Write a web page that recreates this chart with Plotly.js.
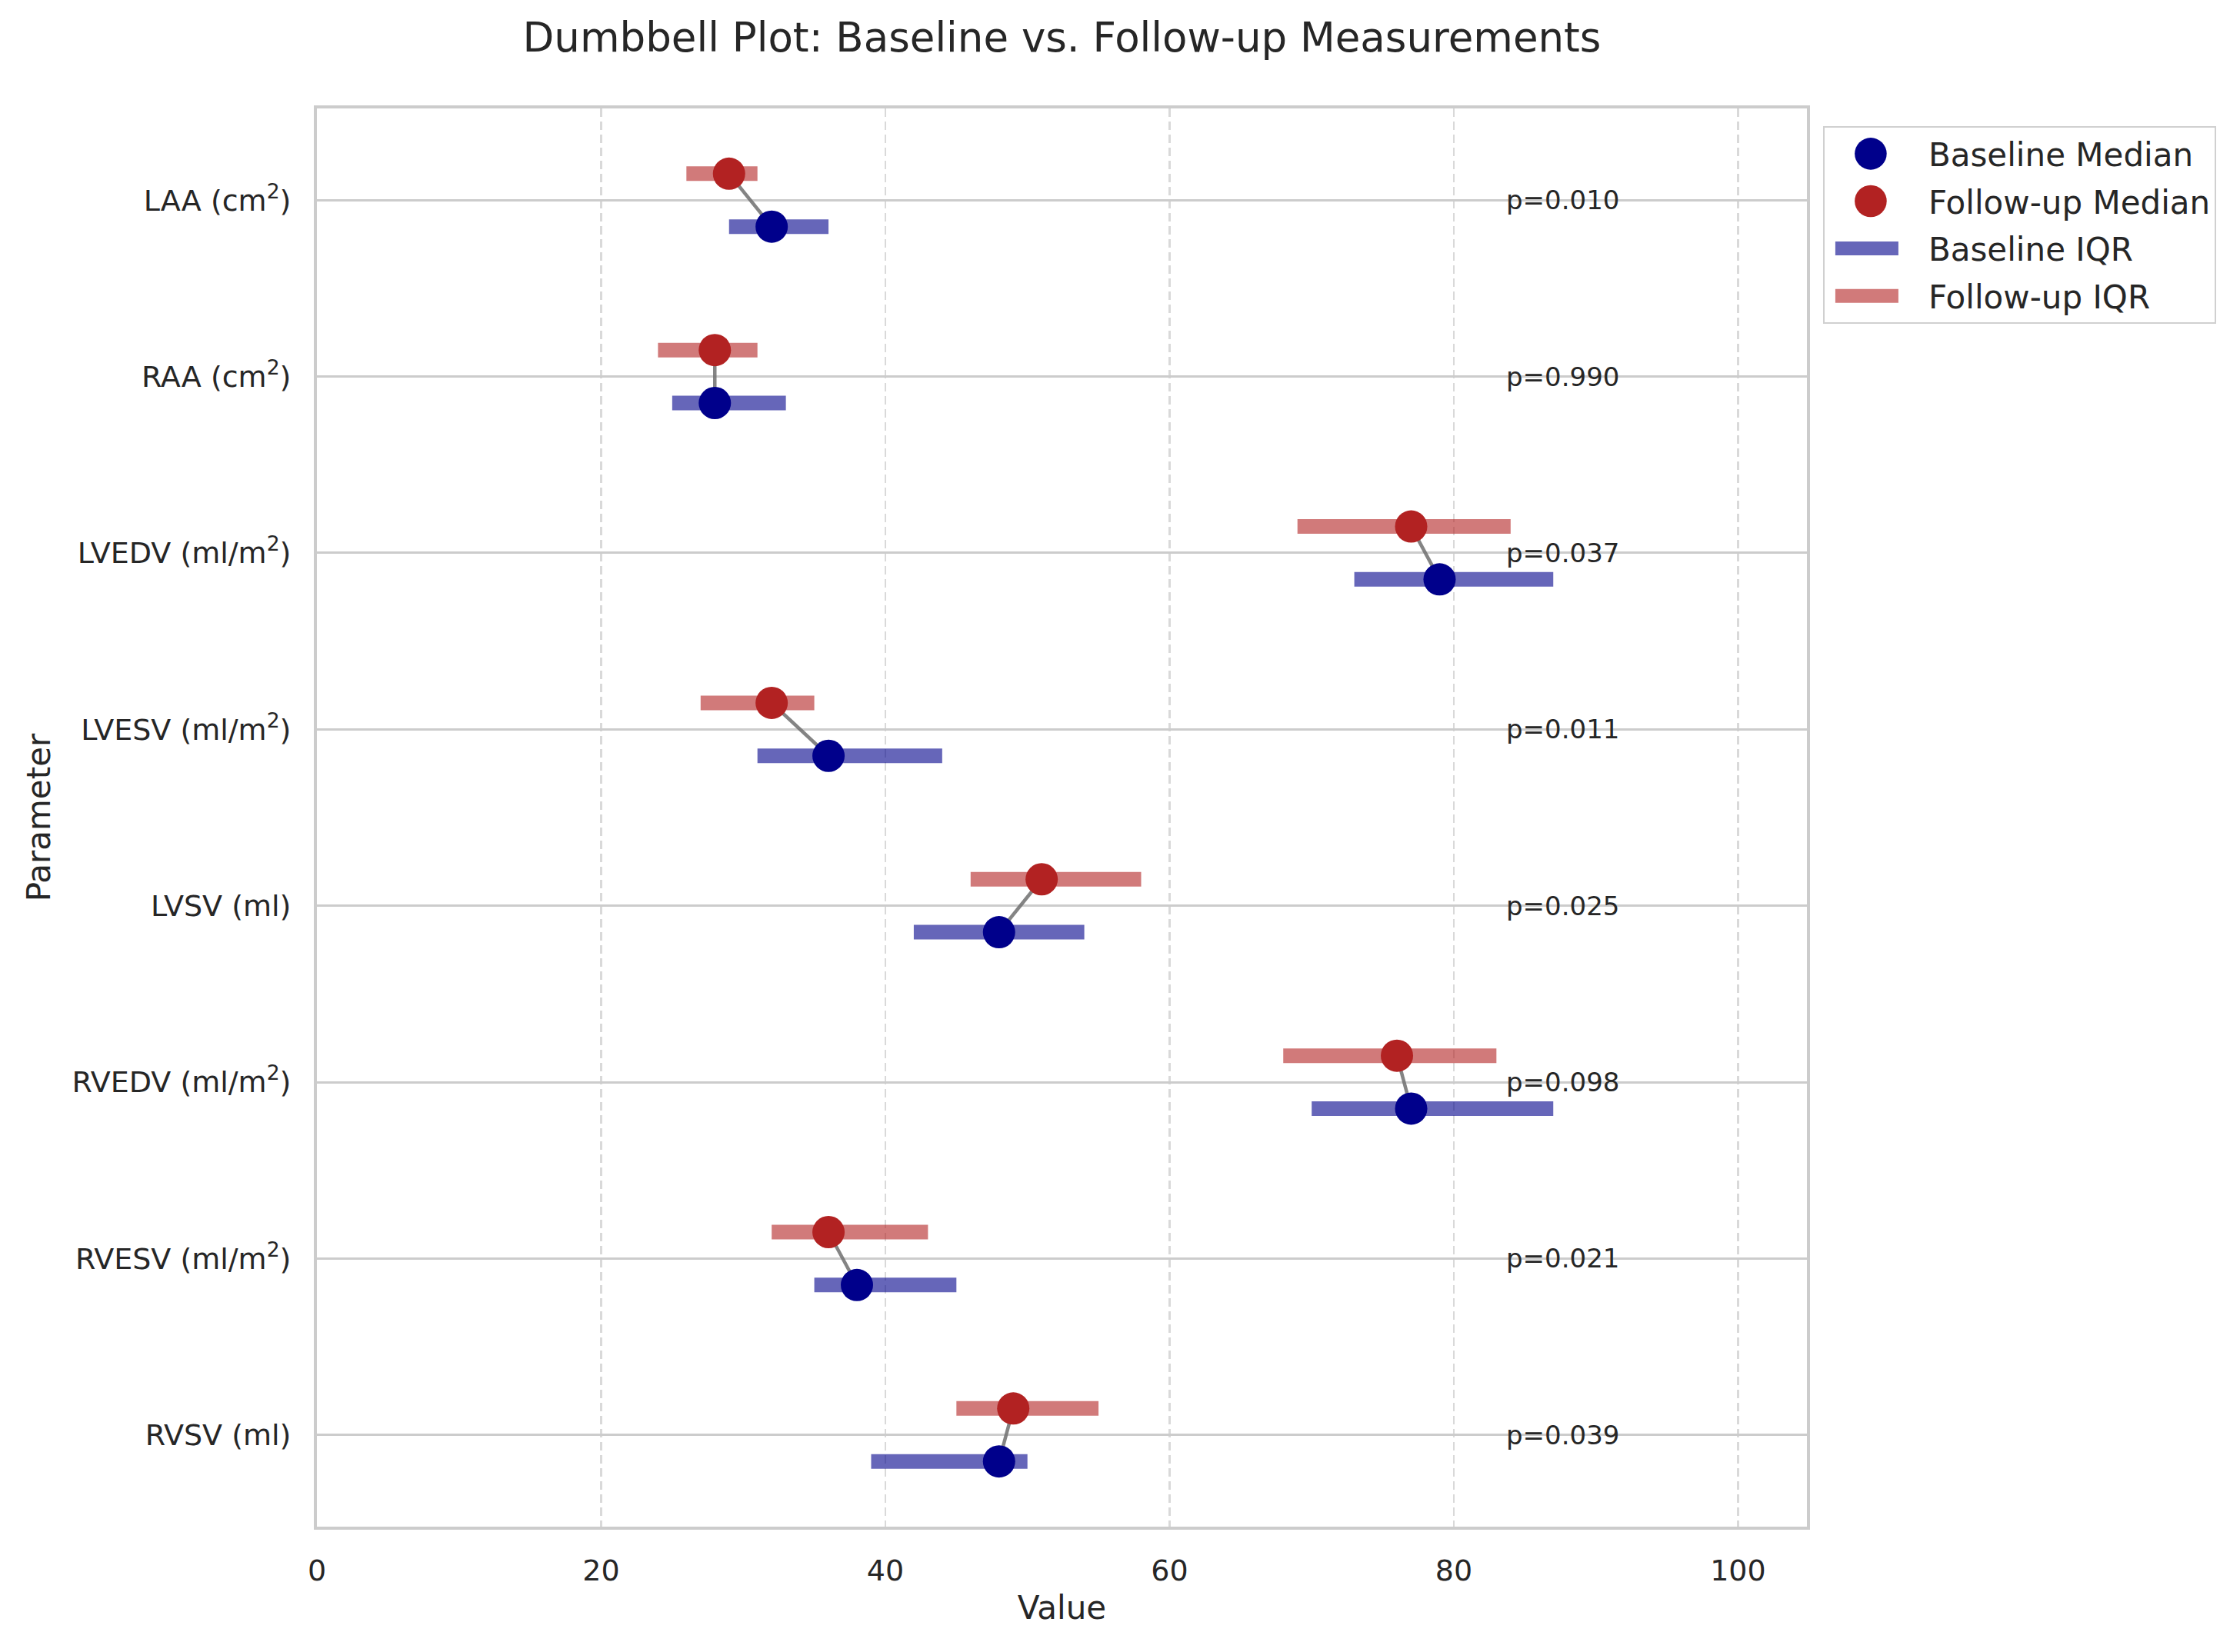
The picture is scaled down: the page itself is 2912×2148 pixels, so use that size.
<!DOCTYPE html>
<html>
<head>
<meta charset="utf-8">
<script src="https://cdn.plot.ly/plotly-3.0.1.min.js"></script>
<style>
  html, body { margin: 0; padding: 0; background: #ffffff; }
  #chart { width: 2912px; height: 2148px; }
</style>
</head>
<body>
<div id="chart"></div>
<script>
// values
const parameters = [
  'LAA (cm<sup>2</sup>)',
  'RAA (cm<sup>2</sup>)',
  'LVEDV (ml/m<sup>2</sup>)',
  'LVESV (ml/m<sup>2</sup>)',
  'LVSV (ml)',
  'RVEDV (ml/m<sup>2</sup>)',
  'RVESV (ml/m<sup>2</sup>)',
  'RVSV (ml)',
];
const baselineMedian = [32, 28, 79, 36, 48, 77, 38, 48];
const baselineQ1 = [29, 25, 73, 31, 42, 70, 35, 39];
const baselineQ3 = [36, 33, 87, 44, 54, 87, 45, 50];
const followupMedian = [29, 28, 77, 32, 51, 76, 36, 49];
const followupQ1 = [26, 24, 69, 27, 46, 68, 32, 45];
const followupQ3 = [31, 31, 84, 35, 58, 83, 43, 55];
const pValues = ['0.010', '0.990', '0.037', '0.011', '0.025', '0.098', '0.021', '0.039'];
const xTicks = [0, 20, 40, 60, 80, 100];

const offset = 0.15;
const pTextX = 83.6;
const font = 'DejaVu Sans, Verdana, sans-serif';
const textColor = '#262626';

const rows = parameters.map((p, i) => i);
const baseY = rows.map(i => i + offset);
const followY = rows.map(i => i - offset);

function segments(starts, ends, ys1, ys2) {
  const xs = [];
  const ys = [];
  starts.forEach((s, i) => {
    xs.push(s, ends[i], null);
    ys.push(ys1[i], ys2[i], null);
  });
  return { xs, ys };
}

const baseIqr = segments(baselineQ1, baselineQ3, baseY, baseY);
const followIqr = segments(followupQ1, followupQ3, followY, followY);
const links = segments(baselineMedian, followupMedian, baseY, followY);

const data = [
  {
    x: baseIqr.xs,
    y: baseIqr.ys,
    name: 'Baseline IQR',
    mode: 'lines',
    type: 'scatter',
    line: { color: 'rgba(0,0,139,0.6)', width: 19 },
    legendrank: 3,
    legendgroup: 'c',
  },
  {
    x: followIqr.xs,
    y: followIqr.ys,
    name: 'Follow-up IQR',
    mode: 'lines',
    type: 'scatter',
    line: { color: 'rgba(178,34,34,0.6)', width: 19 },
    legendrank: 4,
    legendgroup: 'd',
  },
  {
    x: links.xs,
    y: links.ys,
    mode: 'lines',
    type: 'scatter',
    line: { color: 'rgba(110,110,110,0.85)', width: 4.5 },
    showlegend: false,
  },
  {
    x: baselineMedian,
    y: baseY,
    name: 'Baseline Median',
    mode: 'markers',
    type: 'scatter',
    marker: { color: '#00008B', size: 42 },
    legendrank: 1,
    legendgroup: 'a',
  },
  {
    x: followupMedian,
    y: followY,
    name: 'Follow-up Median',
    mode: 'markers',
    type: 'scatter',
    marker: { color: '#B22222', size: 42 },
    legendrank: 2,
    legendgroup: 'b',
  },
];

const annotations = pValues.map((p, i) => ({
  x: pTextX,
  y: i,
  xref: 'x',
  yref: 'y',
  text: 'p=' + p,
  showarrow: false,
  xanchor: 'left',
  yanchor: 'middle',
  font: { family: font, size: 34, color: textColor },
}));

const layout = {
  width: 2912,
  height: 2148,
  paper_bgcolor: '#ffffff',
  plot_bgcolor: '#ffffff',
  margin: { l: 412, r: 563, t: 141, b: 163 },
  font: { family: font, color: textColor },
  hovermode: false,
  title: {
    text: 'Dumbbell Plot: Baseline vs. Follow-up Measurements',
    font: { family: font, size: 53, color: textColor },
    x: 0.5,
    xref: 'paper',
    xanchor: 'center',
    y: 1 - 48 / 2148,
    yref: 'container',
    yanchor: 'middle',
  },
  xaxis: {
    range: [0, 104.85],
    tickvals: xTicks,
    ticktext: xTicks.map(String),
    ticks: '',
    ticklabelstandoff: 20,
    tickfont: { family: font, size: 38, color: textColor },
    showgrid: true,
    gridcolor: '#d9d9d9',
    gridwidth: 2.5,
    griddash: '11px,6px',
    zeroline: false,
    showline: true,
    mirror: true,
    linecolor: '#cccccc',
    linewidth: 4,
    title: {
      text: 'Value',
      font: { family: font, size: 42, color: textColor },
      standoff: 14,
    },
  },
  yaxis: {
    range: [7.52, -0.52],
    tickvals: rows,
    ticktext: parameters,
    ticks: '',
    ticklabelstandoff: 22,
    tickfont: { family: font, size: 38, color: textColor },
    showgrid: true,
    gridcolor: '#cccccc',
    gridwidth: 3,
    zeroline: false,
    showline: true,
    mirror: true,
    linecolor: '#cccccc',
    linewidth: 4,
    title: {
      text: 'Parameter',
      font: { family: font, size: 42, color: textColor },
      standoff: 16,
    },
  },
  legend: {
    x: 1.0108,
    y: 0.9875,
    xanchor: 'left',
    yanchor: 'top',
    traceorder: 'grouped',
    tracegroupgap: 4,
    bgcolor: '#ffffff',
    bordercolor: '#d0d0d0',
    borderwidth: 2,
    itemwidth: 125,
    font: { family: font, size: 42, color: textColor },
  },
  annotations: annotations,
};

Plotly.newPlot('chart', data, layout, { displayModeBar: false, staticPlot: true })
  .then(gd => {
    // legend symbols are capped small by plotly; scale them up to match the plot marks
    gd.querySelectorAll('.legend .legendpoints path.scatterpts').forEach(p => {
      const t = p.getAttribute('transform') || '';
      p.setAttribute('transform', t + ' translate(-7.5,0) scale(2.6)');
    });
    gd.querySelectorAll('.legend .legendlines path').forEach(p => {
      p.style.strokeWidth = '18px';
      p.setAttribute('d', 'M14,0h82');
    });
  });
</script>
</body>
</html>
